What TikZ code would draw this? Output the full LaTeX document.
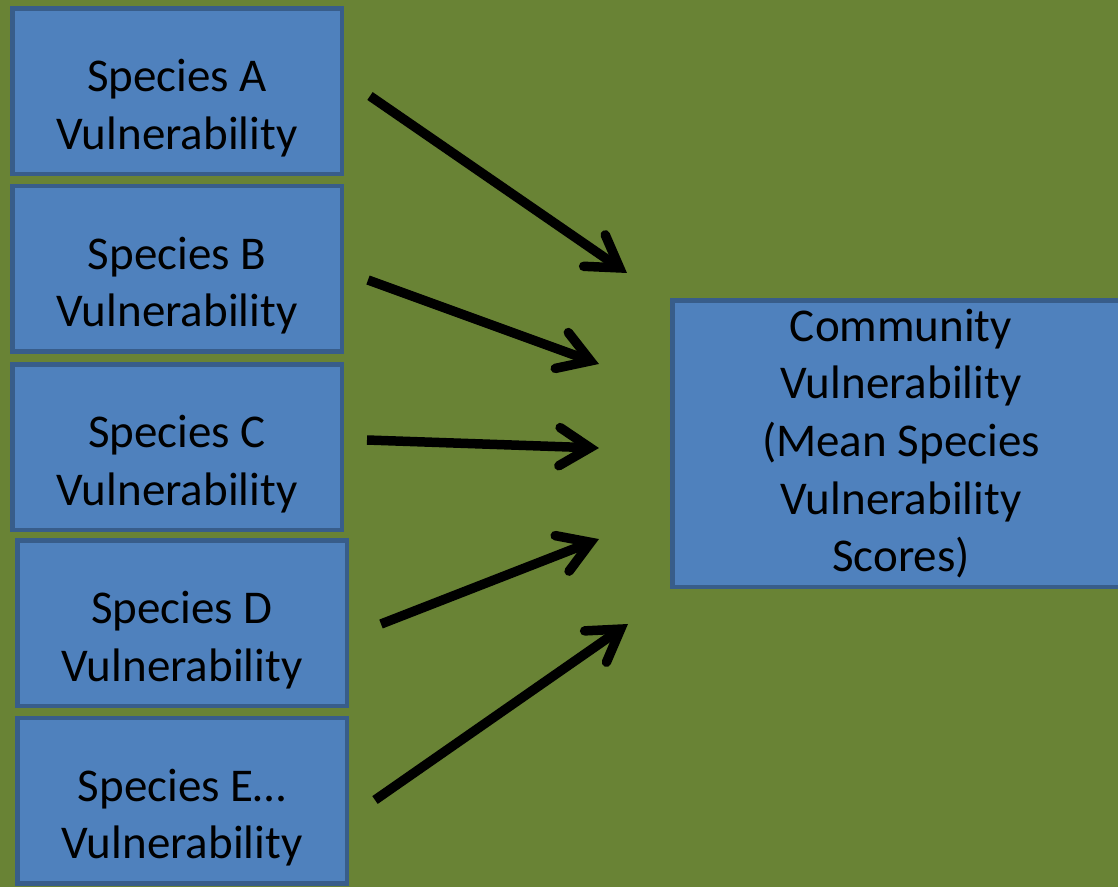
\documentclass[tikz,border=0pt]{standalone}
\usepackage{fontspec}
\setmainfont{Carlito}
\usetikzlibrary{calc}

\definecolor{bggreen}{RGB}{105,131,53}
\definecolor{boxfill}{RGB}{79,129,189}
\definecolor{boxedge}{RGB}{56,93,138}

\tikzset{
  speciesbox/.style={draw=boxedge, fill=boxfill, line width=4.5pt,
    minimum width=329.5pt, minimum height=165.5pt, inner sep=0pt},
  commbox/.style={draw=boxedge, fill=boxfill, line width=4.5pt,
    minimum width=457.5pt, minimum height=286.5pt, inner sep=0pt,
    align=center, font=\fontsize{47}{57.6}\selectfont},
  boxtext/.style={align=center, inner sep=0pt, font=\fontsize{47}{57.6}\selectfont},
  shaft/.style={line width=9.5pt, line cap=butt, draw=black},
  barb/.style={line width=9.5pt, line cap=round, line join=miter, draw=black},
}

% draws the shaft from #1 to #2 and an open chevron head at #2
\newcommand{\feedarrow}[2]{%
  \draw[shaft] (#1) -- (#2);
  \draw[barb] ($(#2)!36pt!32:(#1)$) -- (#2) -- ($(#2)!36pt!-32:(#1)$);
}

\begin{document}
\begin{tikzpicture}[x=1pt, y=-1pt]
  \useasboundingbox (0,0) rectangle (1118,887);
  \clip (0,0) rectangle (1118,887);
  \fill[bggreen] (0,0) rectangle (1118,887);

  % species boxes on the left
  \node[speciesbox] (sA) at (177,91)    {};
  \node[speciesbox] (sB) at (177,268.5) {};
  \node[speciesbox] (sC) at (177,447)   {};
  \node[speciesbox] (sD) at (182,623)   {};
  \node[speciesbox] (sE) at (182,800.5) {};

  \node[boxtext] (tA) at ($(sA.center)+(0,17)$) {Species A\\Vulnerability};
  \node[boxtext] (tB) at ($(sB.center)+(0,17)$) {Species B\\Vulnerability};
  \node[boxtext] (tC) at ($(sC.center)+(0,17)$) {Species C\\Vulnerability};
  \node[boxtext] (tD) at ($(sD.center)+(0,17)$) {Species D\\Vulnerability};
  \node[boxtext] (tE) at ($(sE.center)+(0,17)$) {Species E…\\Vulnerability};

  % community box on the right
  \node[commbox] (comm) at (901,443.5)
    {Community\\Vulnerability\\(Mean Species\\Vulnerability\\Scores)};

  % arrow end points
  \coordinate (a1s) at (370,96);   \coordinate (a1t) at (619.6,267.9);
  \coordinate (a2s) at (368,280);  \coordinate (a2t) at (590.5,360.9);
  \coordinate (a3s) at (367,440);  \coordinate (a3t) at (590,447.7);
  \coordinate (a4s) at (381,624);  \coordinate (a4t) at (590.6,542.3);
  \coordinate (a5s) at (375,800);  \coordinate (a5t) at (620.6,629.1);

  \feedarrow{a1s}{a1t}
  \feedarrow{a2s}{a2t}
  \feedarrow{a3s}{a3t}
  \feedarrow{a4s}{a4t}
  \feedarrow{a5s}{a5t}
\end{tikzpicture}
\end{document}
